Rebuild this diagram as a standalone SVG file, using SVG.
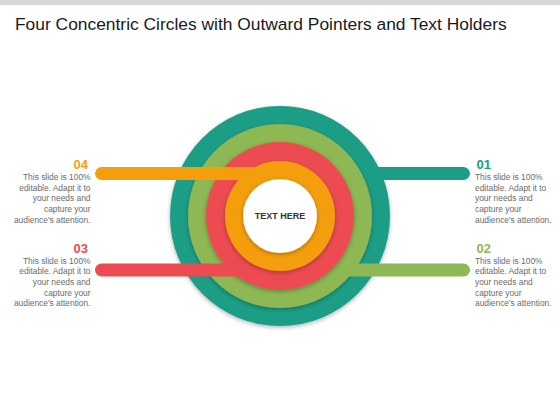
<svg xmlns="http://www.w3.org/2000/svg" width="560" height="420" viewBox="0 0 560 420">
  <defs>
    <filter id="sh" x="-20%" y="-20%" width="140%" height="140%">
      <feDropShadow dx="0" dy="1.5" stdDeviation="2" flood-color="#000" flood-opacity="0.3"/>
    </filter>
    <style>
      .title { font-family: "Liberation Sans", Arial, sans-serif; font-size: 17.4px; fill: #1a1a1a; }
      .num { font-family: "Liberation Sans", Arial, sans-serif; font-size: 13px; font-weight: bold; }
      .body { font-family: "Liberation Sans", Arial, sans-serif; font-size: 8.4px; fill: #6b6b6b; }
      .center { font-family: "Liberation Sans", Arial, sans-serif; font-size: 9px; font-weight: bold; fill: #333333; }
      .teal { fill: #1b9e86; }
      .green { fill: #8db853; }
      .red { fill: #ec4b51; }
      .orange { fill: #f59e0d; }
    </style>
  </defs>
  <rect x="0" y="0" width="560" height="420" fill="#ffffff"/>
  <rect x="0" y="0" width="560" height="5" fill="#d6d6d6"/>
  <text class="title" x="15" y="30">Four Concentric Circles with Outward Pointers and Text Holders</text>

  <g id="rings-and-pointers">
    <circle id="ring-teal" class="teal" cx="280" cy="216" r="110" filter="url(#sh)"/>
    <rect id="pointer-01" class="teal" x="360" y="167" width="110" height="13" rx="6.5"/>
    <circle id="ring-green" class="green" cx="280" cy="216" r="92" filter="url(#sh)"/>
    <rect id="pointer-02" class="green" x="330" y="263.5" width="140" height="13" rx="6.5"/>
    <circle id="ring-red" class="red" cx="280" cy="216" r="74" filter="url(#sh)"/>
    <rect id="pointer-03" class="red" x="95" y="263.5" width="165" height="13" rx="6.5"/>
    <circle id="ring-orange" class="orange" cx="280" cy="216" r="55" filter="url(#sh)"/>
    <rect id="pointer-04" class="orange" x="95" y="167" width="170" height="13" rx="6.5"/>
    <circle id="ring-white" fill="#ffffff" cx="280" cy="216" r="37" filter="url(#sh)"/>
  </g>

  <g id="node-center">
    <text class="center" x="280" y="219.3" text-anchor="middle">TEXT HERE</text>
  </g>

  <g id="node-04" text-anchor="end">
    <text class="num orange" x="88" y="169">04</text>
    <text class="body" x="90.5" y="180">This slide is 100%</text>
    <text class="body" x="90.5" y="190.7">editable. Adapt it to</text>
    <text class="body" x="90.5" y="201.4">your needs and</text>
    <text class="body" x="90.5" y="212.1">capture your</text>
    <text class="body" x="90.5" y="222.8">audience's attention.</text>
  </g>

  <g id="node-03" text-anchor="end">
    <text class="num red" x="88" y="252.7">03</text>
    <text class="body" x="90.5" y="263.5">This slide is 100%</text>
    <text class="body" x="90.5" y="274.2">editable. Adapt it to</text>
    <text class="body" x="90.5" y="284.9">your needs and</text>
    <text class="body" x="90.5" y="295.6">capture your</text>
    <text class="body" x="90.5" y="306.3">audience's attention.</text>
  </g>

  <g id="node-01">
    <text class="num teal" x="476.5" y="169">01</text>
    <text class="body" x="475" y="180">This slide is 100%</text>
    <text class="body" x="475" y="190.7">editable. Adapt it to</text>
    <text class="body" x="475" y="201.4">your needs and</text>
    <text class="body" x="475" y="212.1">capture your</text>
    <text class="body" x="475" y="222.8">audience's attention.</text>
  </g>

  <g id="node-02">
    <text class="num green" x="476.5" y="252.7">02</text>
    <text class="body" x="475" y="263.5">This slide is 100%</text>
    <text class="body" x="475" y="274.2">editable. Adapt it to</text>
    <text class="body" x="475" y="284.9">your needs and</text>
    <text class="body" x="475" y="295.6">capture your</text>
    <text class="body" x="475" y="306.3">audience's attention.</text>
  </g>
</svg>
